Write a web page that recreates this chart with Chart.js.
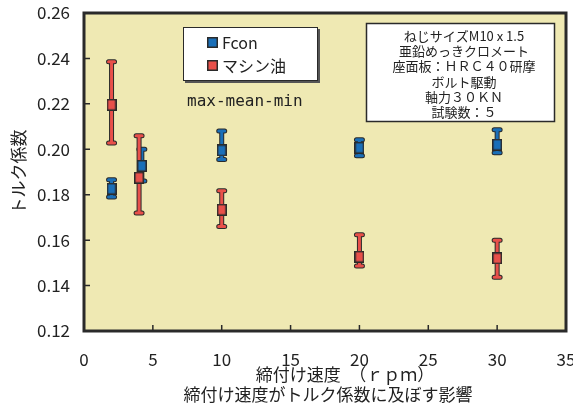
<!DOCTYPE html>
<html>
<head>
<meta charset="utf-8">
<script src="https://cdn.jsdelivr.net/npm/chart.js@4/dist/chart.umd.min.js"></script>
<style>
  html, body { margin: 0; padding: 0; background: #ffffff; }
</style>
</head>
<body>
<canvas id="chart_torque" width="573" height="407"></canvas>
<script>
// data
var series_names = ['Fcon', 'マシン油']

var speeds_fcon = [2, 4.2, 10, 20, 30]
var fcon_mean = [0.1826, 0.1927, 0.1995, 0.2007, 0.2020]
var fcon_max = [0.1866, 0.2000, 0.2080, 0.2042, 0.2086]
var fcon_min = [0.1790, 0.1860, 0.1955, 0.1971, 0.1985]

var speeds_oil = [2, 4, 10, 20, 30]
var oil_mean = [0.2196, 0.1875, 0.1734, 0.1527, 0.1520]
var oil_max = [0.2385, 0.2060, 0.1817, 0.1624, 0.1600]
var oil_min = [0.2028, 0.1720, 0.1660, 0.1486, 0.1437]

var x_ticks = [0, 5, 10, 15, 20, 25, 30, 35]
var y_ticks = [0.12, 0.14, 0.16, 0.18, 0.20, 0.22, 0.24, 0.26]

var note_lines = [
  'ねじサイズM10 x 1.5',
  '亜鉛めっきクロメート',
  '座面板：ＨＲＣ４０研摩',
  'ボルト駆動',
  '軸力３０ＫＮ',
  '試験数：５'
]
var x_title = '締付け速度　（ｒｐｍ）'
var caption = '締付け速度がトルク係数に及ぼす影響'

var colors = {
  blue: '#1a6fb8',
  red: '#e8504a',
  plot_bg: '#efe9b3',
  dark: '#2a2a2a'
}

var jp_font = "'Noto Sans CJK JP', 'Noto Sans', sans-serif"

function makePoint(color) {
  var c = document.createElement('canvas')
  c.width = 10
  c.height = 12
  var g = c.getContext('2d')
  g.fillStyle = colors.dark
  g.fillRect(0, 0, 10, 12)
  g.fillStyle = color
  g.fillRect(1.5, 1.5, 7, 9)
  return c
}

function toPoints(xs, ys) {
  return xs.map(function (x, i) { return { x: x, y: ys[i] } })
}

// error bars, frame, ticks, legend and notes
var decorations = {
  id: 'decorations',
  beforeDraw: function (chart) {
    var a = chart.chartArea
    var ctx = chart.ctx
    ctx.save()
    ctx.fillStyle = colors.plot_bg
    ctx.fillRect(a.left, a.top, a.right - a.left, a.bottom - a.top)
    ctx.restore()
  },
  beforeDatasetsDraw: function (chart) {
    var ctx = chart.ctx
    var xs = chart.scales.x
    var ys = chart.scales.y
    ctx.save()
    ctx.lineCap = 'round'
    chart.data.datasets.forEach(function (ds) {
      ds.data.forEach(function (p, i) {
        var x = xs.getPixelForValue(p.x)
        var top = ys.getPixelForValue(ds.errMax[i])
        var bot = ys.getPixelForValue(ds.errMin[i])
        var passes = [[colors.dark, 5], [ds.backgroundColor, 3]]
        passes.forEach(function (pass) {
          ctx.strokeStyle = pass[0]
          ctx.lineWidth = pass[1]
          ctx.beginPath()
          ctx.moveTo(x, top); ctx.lineTo(x, bot)
          ctx.moveTo(x - 3, top); ctx.lineTo(x + 3, top)
          ctx.moveTo(x - 3, bot); ctx.lineTo(x + 3, bot)
          ctx.stroke()
        })
      })
    })
    ctx.restore()
  },
  afterDraw: function (chart) {
    var ctx = chart.ctx
    var a = chart.chartArea
    var xs = chart.scales.x
    var ys = chart.scales.y
    ctx.save()

    // frame
    ctx.strokeStyle = colors.dark
    ctx.lineWidth = 3
    ctx.strokeRect(a.left, a.top, a.right - a.left, a.bottom - a.top)

    // inside tick marks
    ctx.lineWidth = 1.5
    ctx.beginPath()
    y_ticks.slice(1, -1).forEach(function (v) {
      var y = ys.getPixelForValue(v)
      ctx.moveTo(a.left, y); ctx.lineTo(a.left + 6, y)
    })
    x_ticks.slice(1, -1).forEach(function (v) {
      var x = xs.getPixelForValue(v)
      ctx.moveTo(x, a.bottom); ctx.lineTo(x, a.bottom - 6)
    })
    ctx.stroke()

    // legend box
    ctx.fillStyle = '#555555'
    ctx.fillRect(185, 29, 135, 54)
    ctx.fillStyle = '#ffffff'
    ctx.fillRect(183, 27, 135, 54)
    ctx.strokeStyle = colors.dark
    ctx.lineWidth = 1
    ctx.strokeRect(183.5, 27.5, 134, 53)
    var swatches = [colors.blue, colors.red]
    ctx.font = '16px ' + jp_font
    ctx.textBaseline = 'middle'
    ctx.textAlign = 'left'
    series_names.forEach(function (name, i) {
      var cy = 42 + i * 23
      ctx.fillStyle = colors.dark
      ctx.fillRect(207, cy - 5, 11, 11)
      ctx.fillStyle = swatches[i]
      ctx.fillRect(208.5, cy - 3.5, 8, 8)
      ctx.fillStyle = '#222222'
      ctx.fillText(name, 222, cy + 1)
    })

    ctx.font = "16px 'DejaVu Sans Mono', monospace"
    ctx.fillStyle = '#222222'
    ctx.fillText('max-mean-min', 187, 102)

    // notes box
    ctx.fillStyle = '#ffffff'
    ctx.fillRect(366, 23, 189, 99)
    ctx.strokeStyle = colors.dark
    ctx.lineWidth = 1.5
    ctx.strokeRect(366.5, 23.5, 188, 98)
    ctx.font = '13px ' + jp_font
    ctx.fillStyle = '#222222'
    ctx.textAlign = 'center'
    note_lines.forEach(function (line, i) {
      ctx.fillText(line, 464, 36 + i * 15.2)
    })

    // x axis title and caption
    ctx.font = '17px ' + jp_font
    ctx.fillText(x_title, 345, 375)
    ctx.fillText(caption, 328, 395)

    ctx.restore()
  }
}

var chart = new Chart(document.getElementById('chart_torque').getContext('2d'), {
  type: 'scatter',
  data: {
    datasets: [{
      label: series_names[0],
      data: toPoints(speeds_fcon, fcon_mean),
      errMin: fcon_min,
      errMax: fcon_max,
      backgroundColor: colors.blue,
      pointStyle: makePoint(colors.blue)
    }, {
      label: series_names[1],
      data: toPoints(speeds_oil, oil_mean),
      errMin: oil_min,
      errMax: oil_max,
      backgroundColor: colors.red,
      pointStyle: makePoint(colors.red)
    }]
  },
  options: {
    responsive: false,
    animation: false,
    layout: { padding: { left: 0, top: 13, right: 7, bottom: 0 } },
    plugins: {
      legend: { display: false },
      tooltip: { enabled: false }
    },
    scales: {
      x: {
        type: 'linear',
        min: 0,
        max: 35,
        afterBuildTicks: function (scale) {
          scale.ticks = x_ticks.map(function (v) { return { value: v } })
        },
        afterFit: function (scale) {
          scale.height = 76
          scale.paddingLeft = 0
          scale.paddingRight = 0
        },
        grid: { display: false, drawTicks: false },
        border: { display: false },
        ticks: {
          padding: 18,
          color: '#222222',
          maxRotation: 0,
          font: { family: jp_font, size: 17 }
        }
      },
      y: {
        type: 'linear',
        min: 0.12,
        max: 0.26,
        afterBuildTicks: function (scale) {
          scale.ticks = y_ticks.map(function (v) { return { value: v } })
        },
        afterFit: function (scale) {
          scale.width = 84
          scale.paddingTop = 0
          scale.paddingBottom = 0
        },
        grid: { display: false, drawTicks: false },
        border: { display: false },
        ticks: {
          padding: 14,
          color: '#222222',
          font: { family: jp_font, size: 17 },
          callback: function (v) { return v.toFixed(2) }
        },
        title: {
          display: true,
          text: 'トルク係数',
          color: '#222222',
          padding: { top: 8, bottom: 0 },
          font: { family: jp_font, size: 17 }
        }
      }
    }
  },
  plugins: [decorations]
})
</script>
</body>
</html>
